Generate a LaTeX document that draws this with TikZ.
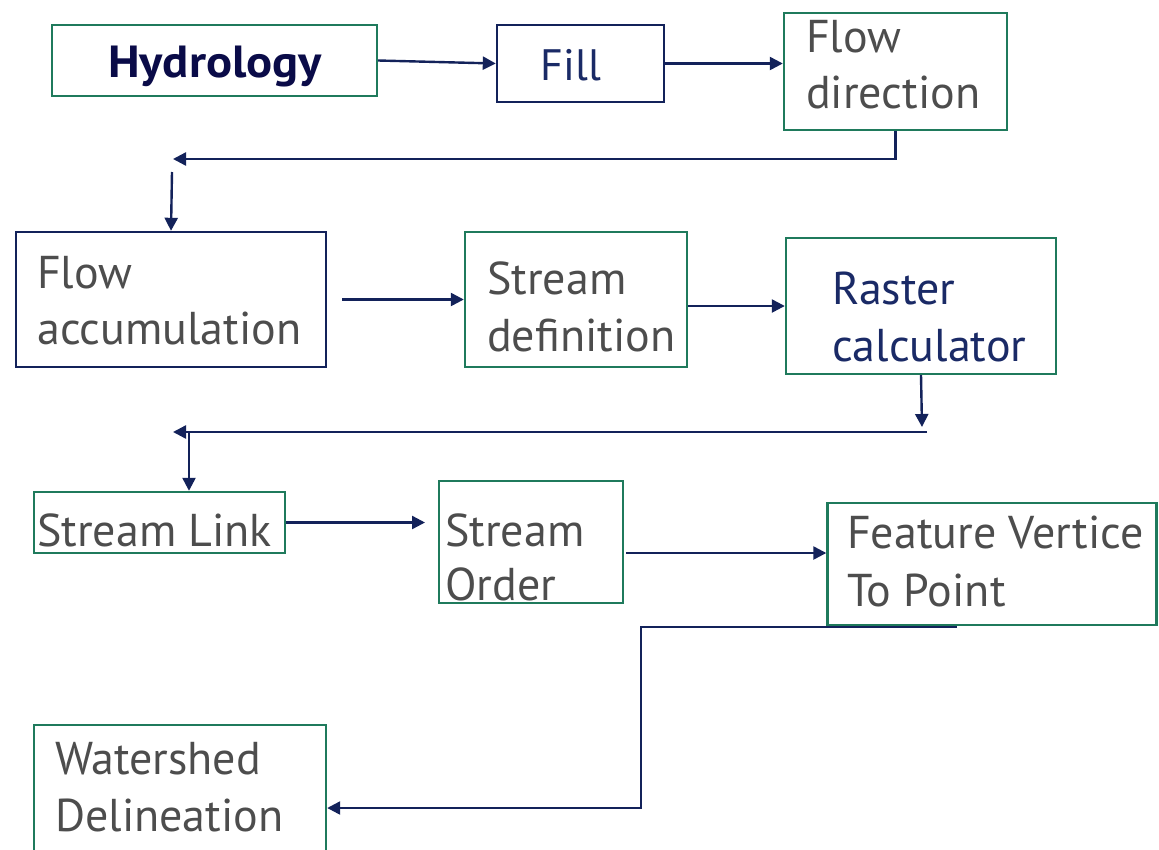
\documentclass[tikz,border=0pt]{standalone}
\usepackage{fontspec}
\setmainfont{PT Sans}
\usetikzlibrary{arrows.meta}
\definecolor{boxgreen}{HTML}{1F7A5C}
\definecolor{navy}{HTML}{13225A}
\definecolor{txtgray}{HTML}{4D4D4D}
\definecolor{deepnavy}{HTML}{0A0B48}
\definecolor{labelnavy}{HTML}{1A2A66}

\begin{document}
\begin{tikzpicture}[x=1pt,y=-1pt,
  gbox/.style={draw=boxgreen,line width=2.4pt,inner sep=0pt,fill=none},
  nbox/.style={draw=navy,line width=2.4pt,inner sep=0pt,fill=none},
  lbl/.style={anchor=base west,inner sep=0pt,text=txtgray,font=\fontsize{46}{55}\selectfont},
  link/.style={draw=navy,line width=2.4pt,-{Triangle[length=13pt,width=13pt]}}]

\useasboundingbox (0,0) rectangle (1159,849);
\clip (0,0) rectangle (1159,849);

% process boxes
\node[gbox, minimum width=325pt, minimum height=71pt]  (hyd)  at (214.5,60.5) {};
\node[nbox, minimum width=167pt, minimum height=77pt]  (fill) at (580.5,63.5) {};
\node[gbox, minimum width=223pt, minimum height=117pt] (fd)   at (895.5,71.5) {};
\node[nbox, minimum width=310pt, minimum height=135pt] (fa)   at (171,299.5) {};
\node[gbox, minimum width=222pt, minimum height=135pt] (sd)   at (576,299.5) {};
\node[gbox, minimum width=270pt, minimum height=136pt] (rc)   at (921,306) {};
\node[gbox, minimum width=251pt, minimum height=61pt]  (sl)   at (159.5,522.5) {};
\node[gbox, minimum width=184pt, minimum height=122pt] (so)   at (531,542) {};
\node[gbox, minimum width=329pt, minimum height=122pt] (fv)   at (992,564) {};
\node[gbox, minimum width=292pt, minimum height=155pt] (wd)   at (180,802.5) {};

% labels
\node[anchor=base, inner sep=0pt, text=deepnavy, font=\fontsize{45}{54}\selectfont\bfseries\addfontfeature{FakeStretch=1.08}] (hydT) at (215,77) {Hydrology};
\node[anchor=base, inner sep=0pt, text=labelnavy, font=\fontsize{44}{52}\selectfont] (fillT) at (571,80) {Fill};
\node[lbl] (fdA) at (806,52)  {Flow};
\node[lbl] (fdB) at (806,108) {direction};
\node[lbl] (faA) at (37,288)  {Flow};
\node[lbl] (faB) at (37,344)  {accumulation};
\node[lbl] (sdA) at (487,294) {Stream};
\node[lbl] (sdB) at (487,351) {definition};
\node[lbl, text=labelnavy] (rcA) at (832,304) {Raster};
\node[lbl, text=labelnavy] (rcB) at (832,361) {calculator};
\node[lbl] (slA) at (37,546)  {Stream Link};
\node[lbl] (soA) at (445,546) {Stream};
\node[lbl] (soB) at (445,600) {Order};
\node[lbl] (fvA) at (847,548) {Feature Vertice};
\node[lbl] (fvB) at (847,606) {To Point};
\node[lbl] (wdA) at (55,774)  {Watershed};
\node[lbl] (wdB) at (55,831)  {Delineation};

% connector end points
\coordinate (r1)  at (173,159);
\coordinate (d1)  at (172,172);
\coordinate (s1)  at (342,299.5);
\coordinate (r2)  at (922,427);
\coordinate (h2a) at (927,432);
\coordinate (h2b) at (173,432);
\coordinate (d2)  at (189,432);
\coordinate (e1)  at (425,522.5);
\coordinate (s2)  at (626,553);
\coordinate (h3)  at (957,627);
\coordinate (v3)  at (641,808);

% connectors
\draw[link] (hyd.east) -- (fill.west);
\draw[link] (fill.east) -- (fill.east -| fd.west);
\draw[link] (fd.south) |- (r1);
\draw[link] (d1) -- (fa.north);
\draw[link] (s1) -- (sd.west);
\draw[link] (sd.east |- rc.west) -- (rc.west);
\draw[link] (rc.south) -- (r2);
\draw[link] (h2a) -- (h2b);
\draw[link] (d2) -- (d2 |- sl.north);
\draw[link] (sl.east) -- (e1);
\draw[link] (s2) -- (s2 -| fv.west);
\draw[link] (h3) -| (v3) -- (v3 -| wd.east);
\end{tikzpicture}
\end{document}
